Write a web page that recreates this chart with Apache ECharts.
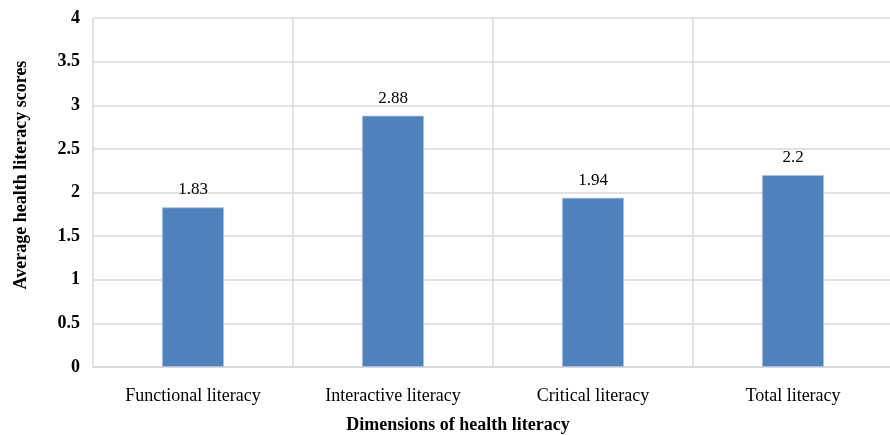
<!DOCTYPE html>
<html>
<head>
<meta charset="utf-8">
<script src="https://cdn.jsdelivr.net/npm/echarts@6/dist/echarts.min.js"></script>
<style>
  html, body { margin: 0; padding: 0; background: #fff; }
  #chart { width: 890px; height: 435px; }
</style>
</head>
<body>
<div id="chart"></div>
<script>
// Average health literacy scores by dimension
const categories = ['Functional literacy', 'Interactive literacy', 'Critical literacy', 'Total literacy'];
const scores = [1.83, 2.88, 1.94, 2.2];
const yTicks = { min: 0, max: 4, step: 0.5 };
const xTitle = 'Dimensions of health literacy';
const yTitle = 'Average health literacy scores';

const serif = '"Liberation Serif", "Times New Roman", serif';
const titleStyle = { fontFamily: serif, fontSize: 18, fontWeight: 'bold', fill: '#000' };
const chart = echarts.init(document.getElementById('chart'));

chart.setOption({
  backgroundColor: '#ffffff',
  animation: false,
  grid: { left: 93, top: 18, width: 800, height: 349, containLabel: false, outerBoundsMode: 'none' },
  // Axis titles placed as free text so they can sit off-centre
  graphic: [
    {
      type: 'text', x: 458, y: 425,
      style: Object.assign({ text: xTitle, align: 'center', verticalAlign: 'middle' }, titleStyle)
    },
    {
      type: 'text', x: 21, y: 175, rotation: Math.PI / 2,
      style: Object.assign({ text: yTitle, align: 'center', verticalAlign: 'middle' }, titleStyle)
    }
  ],
  xAxis: {
    type: 'category',
    data: categories,
    axisLine: { show: true, lineStyle: { color: '#d9d9d9', width: 1.5 } },
    axisTick: { show: false },
    axisLabel: { fontFamily: serif, fontSize: 18, color: '#000', margin: 20 },
    splitLine: { show: true, lineStyle: { color: '#d9d9d9', width: 1.5 } }
  },
  yAxis: {
    type: 'value',
    min: yTicks.min,
    max: yTicks.max,
    interval: yTicks.step,
    axisLine: { show: false },
    axisTick: { show: false },
    axisLabel: { fontFamily: serif, fontSize: 18, fontWeight: 'bold', color: '#000', margin: 13 },
    splitLine: { show: true, lineStyle: { color: '#d9d9d9', width: 1.5 } }
  },
  series: [{
    type: 'bar',
    data: scores,
    barWidth: 62,
    itemStyle: { color: '#4f81bd', borderColor: '#a9c1e0', borderWidth: 0.8 },
    label: {
      show: true,
      position: 'top',
      distance: 9,
      fontFamily: serif,
      fontSize: 17,
      color: '#000'
    }
  }]
});
</script>
</body>
</html>
